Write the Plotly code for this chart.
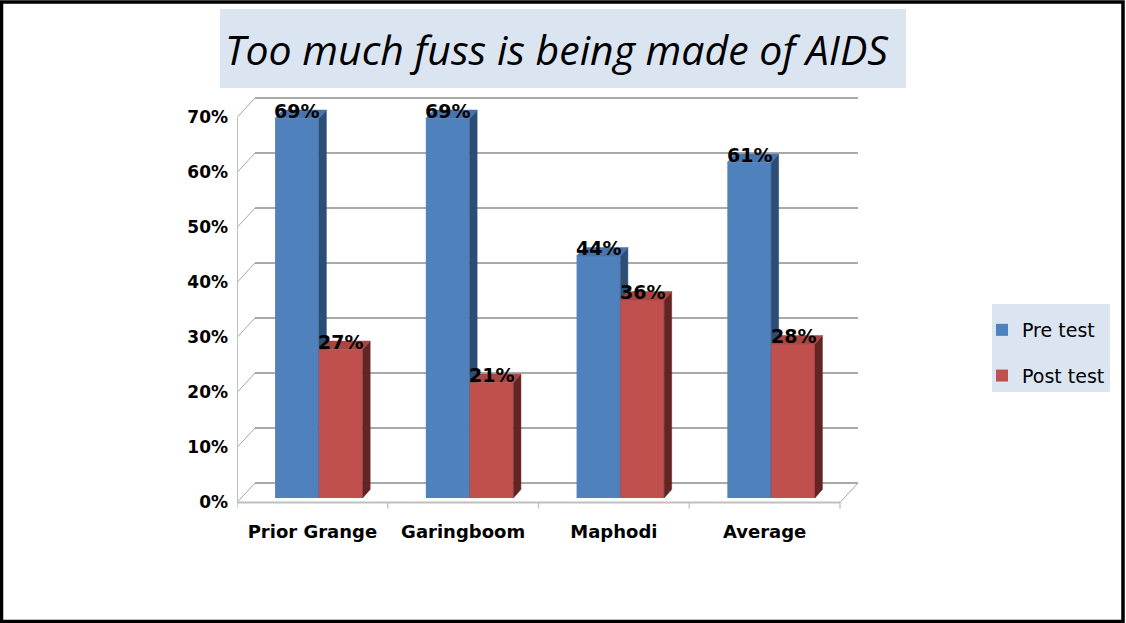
import plotly.graph_objects as go

# ---------------- data ----------------
categories = ["Prior Grange", "Garingboom", "Maphodi", "Average"]
pre_test = [69, 69, 44, 61]
post_test = [27, 21, 36, 28]
y_ticks = [0, 10, 20, 30, 40, 50, 60, 70]
series_names = ["Pre test", "Post test"]
title_text = "Too much fuss is being made of AIDS"

# ---------------- geometry (pixels) ----------------
W, H = 1126, 623
X0_PX = 237.0            # left edge of front floor
BAND_PX = 150.75         # width of one category band
X_RANGE = [-0.5, 3.65]
Y_BOT_PX, Y_TOP_PX = 512.0, 90.0
PX_PER_PCT = 5.5
BAR_ZERO_PX = 498.0
FRONT_ZERO_PX = 502.5

span = (Y_BOT_PX - Y_TOP_PX) / PX_PER_PCT
bar_lo = -(Y_BOT_PX - BAR_ZERO_PX) / PX_PER_PCT
bar_range = [bar_lo, bar_lo + span]
front_lo = -(Y_BOT_PX - FRONT_ZERO_PX) / PX_PER_PCT
front_range = [front_lo, front_lo + span]

x_dom = [X0_PX / W, (X0_PX + (X_RANGE[1] - X_RANGE[0]) * BAND_PX) / W]
y_dom = [1 - Y_BOT_PX / H, 1 - Y_TOP_PX / H]

# 3-D offsets in axis units
back_dx, back_dy = 18 / BAND_PX, 19.5 / PX_PER_PCT
depth_dx, depth_dy = 7.5 / BAND_PX, 8.5 / PX_PER_PCT
BAR_W = 43.8 / BAND_PX
blue_off = -37.3 / BAND_PX
red_off = blue_off + BAR_W

xs = list(range(len(categories)))

colors = {
    "pre": ("#4F81BD", "#2C4D75", "#4873AB"),
    "post": ("#C0504D", "#632523", "#A94643"),
}


def faces(values, off):
    sx, sy, tx, ty = [], [], [], []
    for i, v in zip(xs, values):
        xl = i + off
        xr = xl + BAR_W
        sx += [xr, xr + depth_dx, xr + depth_dx, xr, xr, None]
        sy += [0, depth_dy, v + depth_dy, v, 0, None]
        tx += [xl, xl + depth_dx, xr + depth_dx, xr, xl, None]
        ty += [v, v + depth_dy, v + depth_dy, v, v, None]
    return sx, sy, tx, ty


fig = go.Figure()

for key, name, vals, off, yax in [
    ("pre", series_names[0], pre_test, blue_off, "y"),
    ("post", series_names[1], post_test, red_off, "y2"),
]:
    front, side, top = colors[key]
    fig.add_trace(go.Bar(
        name=name, x=xs, y=vals, width=BAR_W, offset=off,
        marker=dict(color=front, line=dict(width=0)),
        xaxis="x", yaxis=yax, legendgroup=key, hoverinfo="skip",
    ))
    sx, sy, tx, ty = faces(vals, off)
    fig.add_trace(go.Scatter(
        x=sx, y=sy, mode="lines", fill="toself", fillcolor=side,
        line=dict(color=side, width=0.5), xaxis="x", yaxis=yax,
        showlegend=False, hoverinfo="skip",
    ))
    fig.add_trace(go.Scatter(
        x=tx, y=ty, mode="lines", fill="toself", fillcolor=top,
        line=dict(color=top, width=0.5), xaxis="x", yaxis=yax,
        showlegend=False, hoverinfo="skip",
    ))
    for i, v in zip(xs, vals):
        fig.add_annotation(
            x=i + off + BAR_W / 2, y=v, xref="x", yref=yax,
            text=f"{v}%", showarrow=False, yanchor="bottom", yshift=-5,
            font=dict(family="DejaVu Sans", size=19, color="black", weight="bold"),
        )

# front-left wall: vertical axis line and diagonal tick lines
left = X_RANGE[0]
dx_, dy_ = [], []
for v in y_ticks:
    dx_ += [left, left + back_dx, None]
    dy_ += [v, v + back_dy, None]
fig.add_trace(go.Scatter(
    x=dx_, y=dy_, mode="lines", line=dict(color="#A6A6A6", width=1),
    xaxis="x", yaxis="y3", showlegend=False, hoverinfo="skip",
))
fig.add_trace(go.Scatter(
    x=[left, left], y=[y_ticks[0], y_ticks[-1]], mode="lines",
    line=dict(color="#C0C0C0", width=2),
    xaxis="x", yaxis="y3", showlegend=False, hoverinfo="skip",
))

shapes = []
n = len(categories)
x_lo, x_hi = -0.5, n - 0.5
# back wall gridlines
for v in y_ticks:
    shapes.append(dict(type="line", xref="x", yref="y3", layer="below",
                       x0=x_lo + back_dx, x1=x_hi + back_dx,
                       y0=v + back_dy, y1=v + back_dy,
                       line=dict(color="#8C8C8C", width=1.3)))
# front floor edge and right floor diagonal
shapes.append(dict(type="line", xref="x", yref="y3", layer="below",
                   x0=x_lo, x1=x_hi, y0=0, y1=0,
                   line=dict(color="#BFBFBF", width=2)))
shapes.append(dict(type="line", xref="x", yref="y3", layer="below",
                   x0=x_hi, x1=x_hi + back_dx, y0=0, y1=back_dy,
                   line=dict(color="#A6A6A6", width=1)))
# category boundary ticks
for k in range(n + 1):
    b = x_lo + k
    shapes.append(dict(type="line", xref="x", yref="y3", layer="below",
                       x0=b, x1=b, y0=0, y1=-6 / PX_PER_PCT,
                       line=dict(color="#BFBFBF", width=1.3)))
# title box, legend box, outer frame
shapes.append(dict(type="rect", xref="paper", yref="paper", layer="below",
                   x0=220 / W, x1=906 / W, y0=1 - 88 / H, y1=1 - 9 / H,
                   fillcolor="#DBE5F1", line=dict(width=0)))
shapes.append(dict(type="rect", xref="paper", yref="paper", layer="below",
                   x0=992 / W, x1=1110 / W, y0=1 - 392 / H, y1=1 - 304 / H,
                   fillcolor="#DBE5F1", line=dict(width=0)))
shapes.append(dict(type="rect", xref="paper", yref="paper", layer="above",
                   x0=1.5 / W, x1=1123 / W, y0=1 - 621.5 / H, y1=1 - 2 / H,
                   line=dict(color="black", width=3.5)))

hidden = dict(showticklabels=False, showgrid=False, zeroline=False,
              showline=False, ticks="")

fig.update_layout(
    width=W, height=H,
    margin=dict(l=0, r=0, t=0, b=0),
    paper_bgcolor="white", plot_bgcolor="rgba(0,0,0,0)",
    barmode="overlay", hovermode=False,
    title=dict(text=title_text, x=556.5 / W, xanchor="center",
               y=1 - 51 / H, yanchor="middle",
               font=dict(family="Open Sans", size=41, color="black", style="italic")),
    xaxis=dict(domain=x_dom, range=X_RANGE, tickmode="array", tickvals=xs,
               ticktext=categories, showgrid=False, zeroline=False, showline=False,
               ticks="", ticklabelstandoff=7,
               tickfont=dict(family="DejaVu Sans", size=18, color="black", weight="bold")),
    yaxis=dict(domain=y_dom, range=bar_range, **hidden),
    yaxis2=dict(overlaying="y", anchor="x", range=bar_range, **hidden),
    yaxis3=dict(overlaying="y", anchor="x", side="left", range=front_range,
                tickmode="array", tickvals=y_ticks,
                ticktext=[f"{v}%" for v in y_ticks],
                showgrid=False, zeroline=False, showline=False, ticks="",
                ticklabelstandoff=8,
                tickfont=dict(family="DejaVu Sans", size=17, color="black", weight="bold")),
    legend=dict(x=982 / W, xanchor="left", y=1 - 311 / H, yanchor="top",
                bgcolor="rgba(0,0,0,0)", traceorder="grouped", tracegroupgap=18,
                font=dict(family="DejaVu Sans", size=19, color="black")),
    shapes=shapes,
)

fig.write_html("out.html")
